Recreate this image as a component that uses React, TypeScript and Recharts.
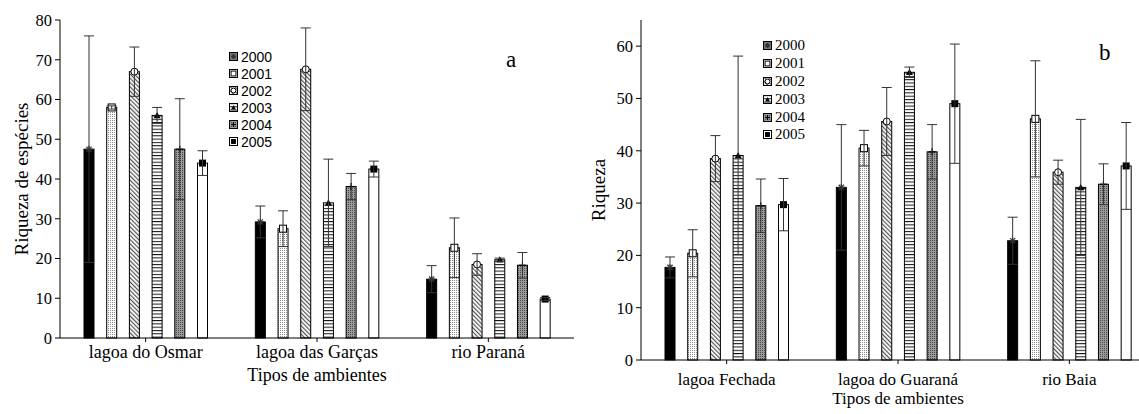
import { Bar, ComposedChart, ErrorBar, XAxis, YAxis } from "recharts";

const YEARS = ["2000", "2001", "2002", "2003", "2004", "2005"];

const LEFT_CATS = ["lagoa do Osmar", "lagoa das Garças", "rio Paraná"];
const OSMAR_MEAN = [47.5, 58, 67, 56, 47.5, 44];
const OSMAR_ERR = [28.5, 0.4, 6.2, 2, 12.7, 3.1];
const GARCAS_MEAN = [29.2, 27.5, 67.6, 34, 38.1, 42.5];
const GARCAS_ERR = [4, 4.5, 10.4, 11, 3.3, 2];
const PARANA_MEAN = [14.8, 22.7, 18.5, 19.7, 18.3, 9.8];
const PARANA_ERR = [3.4, 7.5, 2.7, 0.4, 3.2, 0.4];
const LEFT_TICKS = [0, 10, 20, 30, 40, 50, 60, 70, 80];

const RIGHT_CATS = ["lagoa Fechada", "lagoa do Guaraná", "rio Baia"];
const FECHADA_MEAN = [17.7, 20.4, 38.5, 39.1, 29.5, 29.7];
const FECHADA_ERR = [2, 4.5, 4.4, 19, 5.1, 5];
const GUARANA_MEAN = [33, 40.5, 45.6, 55, 39.8, 49];
const GUARANA_ERR = [12, 3.4, 6.5, 1, 5.2, 11.4];
const BAIA_MEAN = [22.8, 46.1, 35.9, 33, 33.6, 37.1];
const BAIA_ERR = [4.5, 11.1, 2.3, 13, 3.9, 8.3];
const RIGHT_TICKS = [0, 10, 20, 30, 40, 50, 60];

const SERIF = "Liberation Serif";
const SANS = "Liberation Sans";

const FILLS: Record<string, string> = {
  "2000": "#000",
  "2001": "url(#p2001)",
  "2002": "url(#p2002)",
  "2003": "url(#p2003)",
  "2004": "url(#p2004)",
  "2005": "#fff",
};

function buildRows(cats: string[], means: number[][], errs: number[][]) {
  return cats.map((cat, i) => {
    const r: any = { cat };
    YEARS.forEach((y, j) => {
      r["m" + y] = means[i][j];
      r["e" + y] = errs[i][j];
    });
    return r;
  });
}

const LEFT_DATA = buildRows(LEFT_CATS, [OSMAR_MEAN, GARCAS_MEAN, PARANA_MEAN], [OSMAR_ERR, GARCAS_ERR, PARANA_ERR]);
const RIGHT_DATA = buildRows(RIGHT_CATS, [FECHADA_MEAN, GUARANA_MEAN, BAIA_MEAN], [FECHADA_ERR, GUARANA_ERR, BAIA_ERR]);

function Marker({ year, cx, cy, s = 1 }: { year: string; cx: number; cy: number; s?: number }) {
  const h = 3.5 * s;
  switch (year) {
    case "2000":
      return (
        <g stroke="#333" strokeWidth={1.2}>
          <line x1={cx - h} y1={cy} x2={cx + h} y2={cy} />
          <line x1={cx} y1={cy - h} x2={cx} y2={cy + h} />
          <line x1={cx - h * 0.75} y1={cy - h * 0.75} x2={cx + h * 0.75} y2={cy + h * 0.75} />
          <line x1={cx - h * 0.75} y1={cy + h * 0.75} x2={cx + h * 0.75} y2={cy - h * 0.75} />
        </g>
      );
    case "2001":
      return <rect x={cx - h} y={cy - h} width={2 * h} height={2 * h} fill="#fff" stroke="#000" strokeWidth={1} />;
    case "2002":
      return <circle cx={cx} cy={cy} r={h} fill="#fff" stroke="#000" strokeWidth={1} />;
    case "2003":
      return <polygon points={`${cx},${cy - h} ${cx + h},${cy + h * 0.8} ${cx - h},${cy + h * 0.8}`} fill="#000" />;
    case "2004":
      return (
        <g stroke="#000" strokeWidth={1.2}>
          <line x1={cx - h} y1={cy} x2={cx + h} y2={cy} />
          <line x1={cx} y1={cy - h} x2={cx} y2={cy + h} />
        </g>
      );
    default:
      return <rect x={cx - h} y={cy - h} width={2 * h} height={2 * h} fill="#000" />;
  }
}

const barShape = (year: string) => (p: any) => {
  const { x, y, width, height } = p;
  return (
    <g>
      <rect x={x} y={y} width={width} height={height} fill={FILLS[year]} stroke="#000" strokeWidth={1} />
      <Marker year={year} cx={x + width / 2} cy={y} />
    </g>
  );
};

function Patterns() {
  return (
    <svg width={0} height={0} style={{ position: "absolute" }}>
      <defs>
        <pattern id="p2001" width="2" height="2" patternUnits="userSpaceOnUse">
          <rect width="2" height="2" fill="#fff" />
          <rect width="1" height="1" fill="#8a8a8a" />
        </pattern>
        <pattern id="p2002" width="3" height="3" patternUnits="userSpaceOnUse" patternTransform="rotate(-45)">
          <rect width="3" height="3" fill="#fff" />
          <rect width="1.2" height="3" fill="#555" />
        </pattern>
        <pattern id="p2003" width="4" height="3.3" patternUnits="userSpaceOnUse">
          <rect width="4" height="3.3" fill="#fff" />
          <rect width="4" height="1" fill="#111" />
        </pattern>
        <pattern id="p2004" width="2" height="2" patternUnits="userSpaceOnUse">
          <rect width="2" height="2" fill="#9a9a9a" />
          <rect width="1" height="1" fill="#4a4a4a" />
        </pattern>
      </defs>
    </svg>
  );
}

function LegendBox({ left, top, step, font, size }: { left: number; top: number; step: number; font: string; size: number }) {
  return (
    <div style={{ position: "absolute", left, top, fontFamily: font, fontSize: size, color: "#000" }}>
      {YEARS.map((y) => (
        <div key={y} style={{ height: step, display: "flex", alignItems: "center" }}>
          <svg width={9} height={9} style={{ marginRight: 3 }}>
            <rect x={0.5} y={0.5} width={8} height={8} fill={FILLS[y] === "#000" ? "#777" : FILLS[y]} stroke="#000" strokeWidth={1} />
            <Marker year={y} cx={4.5} cy={4.5} s={0.7} />
          </svg>
          <span style={{ lineHeight: 1 }}>{y}</span>
        </div>
      ))}
    </div>
  );
}

function Panel(props: {
  data: any[];
  width: number;
  margin: any;
  yWidth: number;
  max: number;
  ticks: number[];
  yLabel: string;
  yLabelOffset: number;
  tickMargin: number;
  xFont: number;
  xLabelOffset: number;
}) {
  const { data, width, margin, yWidth, max, ticks, yLabel, yLabelOffset, tickMargin, xFont, xLabelOffset } = props;
  return (
    <ComposedChart width={width} height={414} data={data} margin={margin} barSize={10} barGap={12.7}>
      <XAxis
        dataKey="cat"
        height={30}
        tickSize={4}
        tickMargin={tickMargin}
        axisLine={{ stroke: "#000" }}
        tickLine={{ stroke: "#000" }}
        tick={{ fontSize: xFont, fontFamily: SERIF, fill: "#000" }}
        label={{
          value: "Tipos de ambientes",
          position: "bottom",
          offset: xLabelOffset,
          style: { fontSize: xFont, fontFamily: SERIF, fill: "#000" },
        }}
      />
      <XAxis xAxisId="top" dataKey="cat" orientation="top" height={0} tick={false} tickLine={false} axisLine={{ stroke: "#777" }} />
      <YAxis
        width={yWidth}
        domain={[0, max]}
        ticks={ticks}
        tickSize={5}
        tickMargin={3}
        axisLine={{ stroke: "#000" }}
        tickLine={{ stroke: "#000" }}
        tick={{ fontSize: 16.5, fontFamily: SERIF, fill: "#000" }}
        label={{
          value: yLabel,
          angle: -90,
          position: "insideLeft",
          offset: yLabelOffset,
          style: { textAnchor: "middle", fontSize: 19, fontFamily: SERIF, fill: "#000" },
        }}
      />
      <YAxis yAxisId="r" orientation="right" width={0} tick={false} tickLine={false} axisLine={{ stroke: "#777" }} />
      {YEARS.map((y) => (
        <Bar key={y} dataKey={"m" + y} name={y} isAnimationActive={false} shape={barShape(y)}>
          <ErrorBar dataKey={"e" + y} width={5} strokeWidth={1} stroke="#333" direction="y" />
        </Bar>
      ))}
    </ComposedChart>
  );
}

export default function App() {
  return (
    <div style={{ position: "absolute", left: 0, top: 0, width: 1139, height: 414, overflow: "hidden", background: "#fff" }}>
      <Patterns />
      <div style={{ position: "absolute", left: 0, top: 0 }}>
        <Panel
          data={LEFT_DATA}
          width={580}
          margin={{ top: 20, right: 6, bottom: 46, left: 0 }}
          yWidth={60}
          max={80}
          ticks={LEFT_TICKS}
          yLabel="Riqueza de espécies"
          yLabelOffset={21}
          tickMargin={3}
          xFont={18}
          xLabelOffset={0}
        />
      </div>
      <div style={{ position: "absolute", left: 560, top: 0 }}>
        <Panel
          data={RIGHT_DATA}
          width={600}
          margin={{ top: 20, right: 5, bottom: 24, left: 0 }}
          yWidth={81}
          max={65}
          ticks={RIGHT_TICKS}
          yLabel="Riqueza"
          yLabelOffset={38}
          tickMargin={9}
          xFont={17}
          xLabelOffset={2}
        />
      </div>
      <LegendBox left={229} top={48} step={17} font={SANS} size={14} />
      <LegendBox left={763} top={37} step={17.8} font={SERIF} size={15} />
      <div style={{ position: "absolute", left: 506, top: 47, fontFamily: SERIF, fontSize: 23 }}>a</div>
      <div style={{ position: "absolute", left: 1099, top: 40, fontFamily: SERIF, fontSize: 23 }}>b</div>
    </div>
  );
}
